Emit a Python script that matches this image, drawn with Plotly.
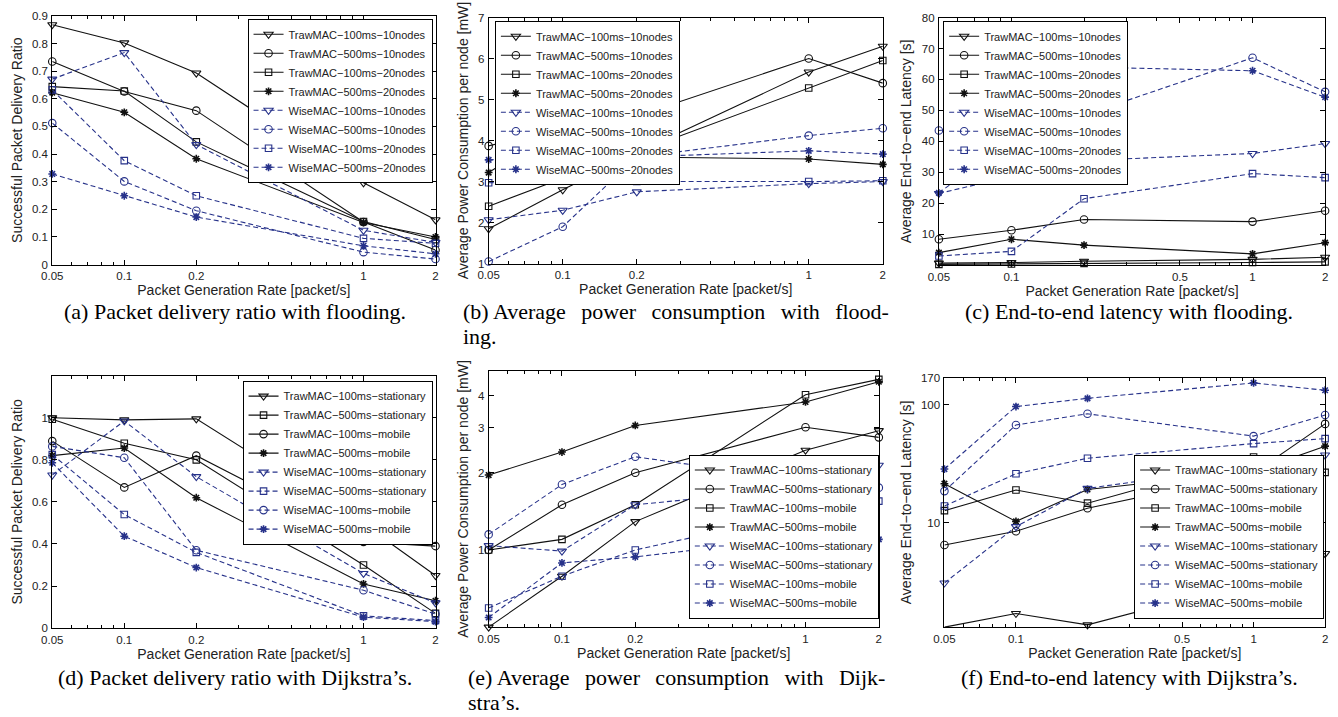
import math
import plotly.graph_objects as go

# ---------------- data ----------------
rates = [0.05, 0.1, 0.2, 1, 2]

names_flood = ["TrawMAC−100ms−10nodes", "TrawMAC−500ms−10nodes", "TrawMAC−100ms−20nodes",
               "TrawMAC−500ms−20nodes", "WiseMAC−100ms−10nodes", "WiseMAC−500ms−10nodes",
               "WiseMAC−100ms−20nodes", "WiseMAC−500ms−20nodes"]
names_dijk_d = ["TrawMAC−100ms−stationary", "TrawMAC−500ms−stationary", "TrawMAC−100ms−mobile",
                "TrawMAC−500ms−mobile", "WiseMAC−100ms−stationary", "WiseMAC−500ms−stationary",
                "WiseMAC−100ms−mobile", "WiseMAC−500ms−mobile"]
names_dijk_ef = ["TrawMAC−100ms−stationary", "TrawMAC−500ms−stationary", "TrawMAC−100ms−mobile",
                 "TrawMAC−500ms−mobile", "WiseMAC−100ms−stationary", "WiseMAC−500ms−stationary",
                 "WiseMAC−100ms−mobile", "WiseMAC−500ms−mobile"]

# (a) packet delivery ratio, flooding
a_traw_100_10 = [0.868, 0.802, 0.693, 0.296, 0.162]
a_traw_500_10 = [0.735, 0.626, 0.557, 0.154, 0.053]
a_traw_100_20 = [0.644, 0.628, 0.444, 0.156, 0.091]
a_traw_500_20 = [0.622, 0.551, 0.383, 0.152, 0.100]
a_wise_100_10 = [0.671, 0.767, 0.434, 0.124, 0.080]
a_wise_500_10 = [0.512, 0.301, 0.195, 0.045, 0.020]
a_wise_100_20 = [0.632, 0.376, 0.249, 0.095, 0.077]
a_wise_500_20 = [0.328, 0.249, 0.172, 0.068, 0.039]

# (b) average power consumption, flooding
b_traw_100_10 = [1.85, 2.80, 3.70, 5.67, 6.30]
b_traw_500_10 = [3.87, 4.30, 4.60, 6.00, 5.40]
b_traw_100_20 = [2.40, 3.08, 3.72, 5.28, 5.95]
b_traw_500_20 = [3.22, 4.35, 3.60, 3.55, 3.42]
b_wise_100_10 = [2.07, 2.30, 2.75, 2.95, 3.00]
b_wise_500_10 = [1.05, 1.90, 3.60, 4.12, 4.30]
b_wise_100_20 = [2.97, 3.03, 3.00, 3.00, 3.02]
b_wise_500_20 = [3.53, 3.62, 3.60, 3.75, 3.67]

# (c) end-to-end latency, flooding
c_traw_100_10 = [0.7, 0.85, 1.3, 1.9, 2.6]
c_traw_500_10 = [8.4, 11.3, 14.8, 14.1, 17.6]
c_traw_100_20 = [0.3, 0.4, 0.6, 0.9, 1.1]
c_traw_500_20 = [4.1, 8.4, 6.5, 3.7, 7.3]
c_wise_100_10 = [23.2, 28.7, 33.8, 36.1, 39.3]
c_wise_500_10 = [43.5, 46.0, 48.5, 67.0, 56.0]
c_wise_100_20 = [3.0, 4.5, 21.5, 29.6, 28.3]
c_wise_500_20 = [23.4, 40.5, 64.0, 62.8, 54.3]

# (d) packet delivery ratio, Dijkstra
d_traw_100_st = [1.000, 0.990, 0.995, 0.495, 0.250]
d_traw_500_st = [0.993, 0.879, 0.800, 0.300, 0.070]
d_traw_100_mo = [0.889, 0.669, 0.820, 0.410, 0.390]
d_traw_500_mo = [0.820, 0.856, 0.620, 0.210, 0.130]
d_wise_100_st = [0.728, 0.985, 0.720, 0.260, 0.120]
d_wise_500_st = [0.825, 0.540, 0.360, 0.058, 0.036]
d_wise_100_mo = [0.864, 0.810, 0.370, 0.180, 0.067]
d_wise_500_mo = [0.786, 0.437, 0.288, 0.052, 0.031]

# (e) average power consumption, Dijkstra
e_traw_100_st = [0.50, 0.79, 1.29, 2.45, 2.92]
e_traw_500_st = [1.00, 1.50, 2.00, 3.01, 2.75]
e_traw_100_mo = [1.00, 1.10, 1.50, 4.03, 4.63]
e_traw_500_mo = [1.96, 2.41, 3.06, 3.78, 4.53]
e_wise_100_st = [1.04, 0.99, 1.50, 1.75, 2.14]
e_wise_500_st = [1.15, 1.80, 2.31, 1.86, 1.75]
e_wise_100_mo = [0.594, 0.79, 1.00, 1.40, 1.55]
e_wise_500_mo = [0.545, 0.89, 0.94, 1.12, 1.10]

# (f) end-to-end latency, Dijkstra
f_traw_100_st = [1.31, 1.71, 1.37, 3.2, 5.5]
f_traw_500_st = [6.5, 8.5, 13.3, 26.4, 69.0]
f_traw_100_mo = [12.7, 19.0, 14.7, 36.2, 26.8]
f_traw_500_mo = [21.5, 10.3, 19.2, 27.3, 44.7]
f_wise_100_st = [3.1, 9.3, 19.6, 31.0, 37.6]
f_wise_500_st = [18.6, 67.6, 84.0, 54.4, 82.0]
f_wise_100_mo = [13.9, 26.1, 35.3, 47.0, 51.8]
f_wise_500_mo = [28.6, 96.8, 113.6, 153.5, 133.0]

xt_vals_a = [0.05, 0.1, 0.2, 1, 2]
xt_text_a = ["0.05", "0.1", "0.2", "1", "2"]
xt_vals_c = [0.05, 0.1, 0.5, 1, 2]
xt_text_c = ["0.05", "0.1", "0.5", "1", "2"]
minor_x = [0.06, 0.07, 0.08, 0.09, 0.2, 0.3, 0.4, 0.5, 0.6, 0.7, 0.8, 0.9]

# ---------------- style ----------------
W, H = 1338, 717
BLACK = "#111111"
BLUE = "#27328a"
SANS = "Liberation Sans, Arial, sans-serif"
SERIF = "Liberation Serif, Times New Roman, serif"

fig = go.Figure()


def px_x(v):
    return v / W


def px_y(v):
    return 1 - v / H


panels = [
    (1, names_flood,
     [a_traw_100_10, a_traw_500_10, a_traw_100_20, a_traw_500_20,
      a_wise_100_10, a_wise_500_10, a_wise_100_20, a_wise_500_20],
     ["triangle-down-open", "circle-open", "square-open", "asterisk-open"] * 2,
     (41.7, 429), (10, 263)),
    (2, names_flood,
     [b_traw_100_10, b_traw_500_10, b_traw_100_20, b_traw_500_20,
      b_wise_100_10, b_wise_500_10, b_wise_100_20, b_wise_500_20],
     ["triangle-down-open", "circle-open", "square-open", "asterisk-open"] * 2,
     (482.7, 881), (11.7, 262)),
    (3, names_flood,
     [c_traw_100_10, c_traw_500_10, c_traw_100_20, c_traw_500_20,
      c_wise_100_10, c_wise_500_10, c_wise_100_20, c_wise_500_20],
     ["triangle-down-open", "circle-open", "square-open", "asterisk-open"] * 2,
     (937.7, 1328), (11.7, 263.7)),
    (4, names_dijk_d,
     [d_traw_100_st, d_traw_500_st, d_traw_100_mo, d_traw_500_mo,
      d_wise_100_st, d_wise_500_st, d_wise_100_mo, d_wise_500_mo],
     ["triangle-down-open", "square-open", "circle-open", "asterisk-open"] * 2,
     (41.7, 429), (376, 632.7)),
    (5, names_dijk_ef,
     [e_traw_100_st, e_traw_500_st, e_traw_100_mo, e_traw_500_mo,
      e_wise_100_st, e_wise_500_st, e_wise_100_mo, e_wise_500_mo],
     ["triangle-down-open", "circle-open", "square-open", "asterisk-open"] * 2,
     (482.7, 877), (371, 631.7)),
    (6, names_dijk_ef,
     [f_traw_100_st, f_traw_500_st, f_traw_100_mo, f_traw_500_mo,
      f_wise_100_st, f_wise_500_st, f_wise_100_mo, f_wise_500_mo],
     ["triangle-down-open", "circle-open", "square-open", "asterisk-open"] * 2,
     (943.3, 1328), (378, 631.7)),
]

sym_size = {"triangle-down-open": 8, "circle-open": 7.5, "square-open": 6.5, "asterisk-open": 6.5}

for idx, names, series, syms, xd, yd in panels:
    xa = "x" if idx == 1 else f"x{idx}"
    ya = "y" if idx == 1 else f"y{idx}"
    leg = "legend" if idx == 1 else f"legend{idx}"
    for name, ys, sym in zip(names, series, syms):
        wise = name.startswith("Wise")
        col = BLUE if wise else BLACK
        fig.add_trace(go.Scatter(
            x=rates, y=ys, name=name, mode="lines+markers",
            xaxis=xa, yaxis=ya, legend=leg, cliponaxis=False,
            line=dict(color=col, width=1.1, dash="5px,3px" if wise else "solid"),
            marker=dict(symbol=sym, size=sym_size[sym], color=col,
                        line=dict(color=col, width=1.6 if sym.startswith("asterisk") else 1.1)),
        ))

axis_common = dict(showline=True, linecolor="black", linewidth=1, mirror="ticks",
                   ticks="inside", ticklen=5, tickcolor="black", showgrid=False, zeroline=False,
                   tickfont=dict(family=SANS, size=11.5, color="#222"))

layout = dict(width=W, height=H, margin=dict(l=0, r=0, t=0, b=0),
              paper_bgcolor="white", plot_bgcolor="white", showlegend=True)

ytitles = {1: "Successful Packet Delivery Ratio", 2: "Average Power Consumption per node [mW]",
           3: "Average End−to−end Latency [s]", 4: "Successful Packet Delivery Ratio",
           5: "Average Power Consumption per node [mW]", 6: "Average End−to−end Latency [s]"}

yconf = {
    1: dict(type="linear", range=[0, 0.9], tickvals=[0, 0.1, 0.2, 0.3, 0.4, 0.5, 0.6, 0.7, 0.8, 0.9],
            ticktext=["0", "0.1", "0.2", "0.3", "0.4", "0.5", "0.6", "0.7", "0.8", "0.9"]),
    2: dict(type="linear", range=[1, 7], tickvals=[1, 2, 3, 4, 5, 6, 7]),
    3: dict(type="linear", range=[0, 80], tickvals=[10, 20, 30, 40, 50, 60, 70, 80]),
    4: dict(type="linear", range=[0, 1.2], tickvals=[0, 0.2, 0.4, 0.6, 0.8, 1],
            ticktext=["0", "0.2", "0.4", "0.6", "0.8", "1"]),
    5: dict(type="log", range=[math.log10(0.5), math.log10(5)], tickvals=[1, 2, 3, 4],
            ticktext=["1", "2", "3", "4"]),
    6: dict(type="log", range=[math.log10(1.31), math.log10(170)], tickvals=[10, 100, 170],
            ticktext=["10", "100", "170"]),
}

legend_pos = {
    1: dict(x=px_x(426), y=px_y(13), xanchor="right", yanchor="top"),
    2: dict(x=px_x(489), y=px_y(15), xanchor="left", yanchor="top"),
    3: dict(x=px_x(942), y=px_y(15), xanchor="left", yanchor="top"),
    4: dict(x=px_x(426), y=px_y(381), xanchor="right", yanchor="top"),
    5: dict(x=px_x(877), y=px_y(623), xanchor="right", yanchor="bottom"),
    6: dict(x=px_x(1327), y=px_y(623), xanchor="right", yanchor="bottom"),
}

for idx, names, series, syms, xd, yd in panels:
    xk = "xaxis" if idx == 1 else f"xaxis{idx}"
    yk = "yaxis" if idx == 1 else f"yaxis{idx}"
    ya = "y" if idx == 1 else f"y{idx}"
    xa = "x" if idx == 1 else f"x{idx}"
    if idx in (3, 6):
        tv, tt = xt_vals_c, xt_text_c
    else:
        tv, tt = xt_vals_a, xt_text_a
    layout[xk] = dict(axis_common, type="log", domain=[px_x(xd[0]), px_x(xd[1])], anchor=ya,
                      range=[math.log10(0.05), math.log10(2)], tickvals=tv, ticktext=tt,
                      ticklabelstandoff=1,
                      minor=dict(tickvals=minor_x, ticks="inside", ticklen=3, tickcolor="black"),
                      title=dict(text="Packet Generation Rate [packet/s]", standoff=0,
                                 font=dict(family=SANS, size=14, color="#222")))
    layout[yk] = dict(axis_common, domain=[px_y(yd[1]), px_y(yd[0])], anchor=xa,
                      ticklabelstandoff=1,
                      title=dict(text=ytitles[idx], standoff=6,
                                 font=dict(family=SANS, size=14, color="#222")),
                      **yconf[idx])
    lk = "legend" if idx == 1 else f"legend{idx}"
    layout[lk] = dict(legend_pos[idx], bgcolor="white", bordercolor="black", borderwidth=1,
                      font=dict(family=SANS, size=11, color="#222"), itemwidth=30,
                      tracegroupgap=0)

NB = "\u00a0"
G = NB + NB + "\u2009"  # widened inter-word gap for the justified caption lines
captions = [
    ("(a) Packet delivery ratio with flooding.", 226, 311, "center"),
    ("(b) Average" + G + "power" + G + "consumption" + G + "with" + G + "flood-", 455, 311, "left"),
    ("ing.", 455, 336, "left"),
    ("(c) End-to-end latency with flooding.", 1130, 311, "center"),
    ("(d) Packet delivery ratio with Dijkstra’s.", 226, 683, "center"),
    ("(e) Average" + G + "power" + G + "consumption" + G + "with" + G + "Dijk-", 460, 683, "left"),
    ("stra’s.", 460, 708, "left"),
    ("(f) End-to-end latency with Dijkstra’s.", 1130, 683, "center"),
]
annotations = []
for text, x, y, al in captions:
    annotations.append(dict(text=text, x=px_x(x), y=px_y(y), xref="paper", yref="paper",
                            xanchor=al, yanchor="middle", showarrow=False,
                            font=dict(family=SERIF, size=22, color="black")))
layout["annotations"] = annotations

fig.update_layout(**layout)
fig.write_html("out.html", config={"displayModeBar": False},
               post_script="document.body.style.margin='0px';")
